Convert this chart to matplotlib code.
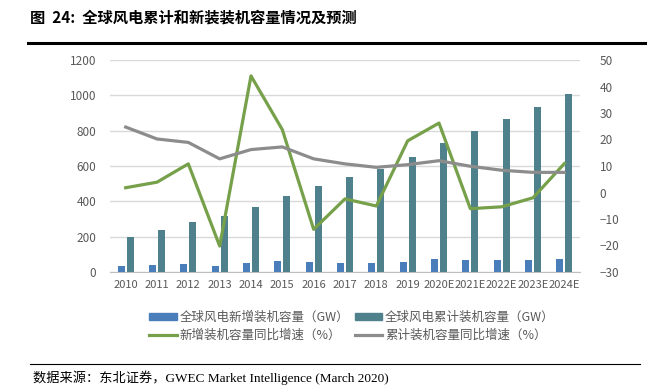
import matplotlib
matplotlib.use("Agg")
import matplotlib.pyplot as plt
import numpy as np
from matplotlib.patches import Patch
from matplotlib.lines import Line2D

plt.rcParams['font.family'] = ['Noto Sans CJK SC', 'DejaVu Sans']

categories = ["2010", "2011", "2012", "2013", "2014", "2015", "2016", "2017",
              "2018", "2019", "2020E", "2021E", "2022E", "2023E", "2024E"]
new_capacity = [35, 39, 44, 35, 50, 61, 54, 50, 50, 57, 75, 69, 67, 67, 72]
cum_capacity = [198, 238, 281, 317, 369, 433, 486, 539, 585, 650, 728, 797, 866, 934, 1006]
new_growth = [1.8, 3.9, 10.8, -20.2, 44.0, 23.7, -13.9, -2.4, -5.1, 19.5, 26.2, -6.1, -5.4, -2.0, 10.9]
cum_growth = [24.7, 20.2, 18.9, 12.7, 16.2, 17.2, 12.7, 10.8, 9.5, 10.5, 12.0, 9.9, 8.4, 7.6, 7.6]
left_ticks = [0, 200, 400, 600, 800, 1000, 1200]
right_ticks = [-30, -20, -10, 0, 10, 20, 30, 40, 50]

c_new = "#4A7EBB"
c_cum = "#4F818D"
c_green = "#77A04A"
c_gray = "#8C8C8C"
txt = "#595959"

fig = plt.figure(figsize=(6.68, 3.92), dpi=100)
ax = fig.add_axes([110/668, 1-272/392, 470/668, 212/392])
x = np.arange(len(categories))
w = 0.23
ax.bar(x - 0.145, new_capacity, width=w, color=c_new, zorder=3)
ax.bar(x + 0.145, cum_capacity, width=w, color=c_cum, zorder=3)
ax.set_xlim(-0.5, len(categories) - 0.5)
ax.set_ylim(0, 1200)
ax.set_yticks(left_ticks)
ax.set_xticks(x)
ax.set_xticklabels(categories)
ax.grid(axis='y', color='#D9D9D9', linewidth=1, zorder=0)
for s in ['top', 'right', 'left']:
    ax.spines[s].set_visible(False)
ax.spines['bottom'].set_color('#BFBFBF')
ax.tick_params(axis='y', length=0, labelsize=8.5, colors=txt, pad=10)
ax.tick_params(axis='x', length=0, labelsize=8, colors=txt, pad=6)

ax2 = ax.twinx()
ax2.plot(x, new_growth, color=c_green, linewidth=2.3, zorder=4)
ax2.plot(x, cum_growth, color=c_gray, linewidth=2.3, zorder=4)
ax2.set_ylim(-30, 50)
ax2.set_yticks(right_ticks)
for s in ['top', 'right', 'left', 'bottom']:
    ax2.spines[s].set_visible(False)
ax2.tick_params(axis='y', length=0, labelsize=8.5, colors=txt, pad=14)

h_new = Patch(color=c_new)
h_cum = Patch(color=c_cum)
h_green = Line2D([0], [0], color=c_green, linewidth=2.3)
h_gray = Line2D([0], [0], color=c_gray, linewidth=2.3)
handles = [h_new, h_green, h_cum, h_gray]
labels = ["全球风电新增装机容量（GW）", "新增装机容量同比增速（%）",
          "全球风电累计装机容量（GW）", "累计装机容量同比增速（%）"]
leg = fig.legend(handles, labels, ncol=2, loc='center', bbox_to_anchor=(352/668, 1-326/392),
                 frameon=False, fontsize=9, handlelength=2.2, handleheight=0.5,
                 columnspacing=0.4, handletextpad=0.25, labelspacing=0.4)
for t in leg.get_texts():
    t.set_color(txt)

fig.text(30/668, 1-18/392, "图  24:  全球风电累计和新装装机容量情况及预测", fontsize=11,
         fontweight='bold', va='center', ha='left', color='black')
fig.add_artist(Line2D([28/668, 645/668], [1-43/392, 1-43/392], color='black', linewidth=2.2))
fig.add_artist(Line2D([30/668, 640/668], [1-364/392, 1-364/392], color='black', linewidth=0.8))
fig.text(33/668, 1-378/392, "数据来源：东北证券，GWEC Market Intelligence (March 2020)",
         fontsize=9.5, va='center', ha='left', color='black',
         family=['Liberation Serif', 'Noto Sans CJK SC'])

fig.savefig("out.png", dpi=100)
